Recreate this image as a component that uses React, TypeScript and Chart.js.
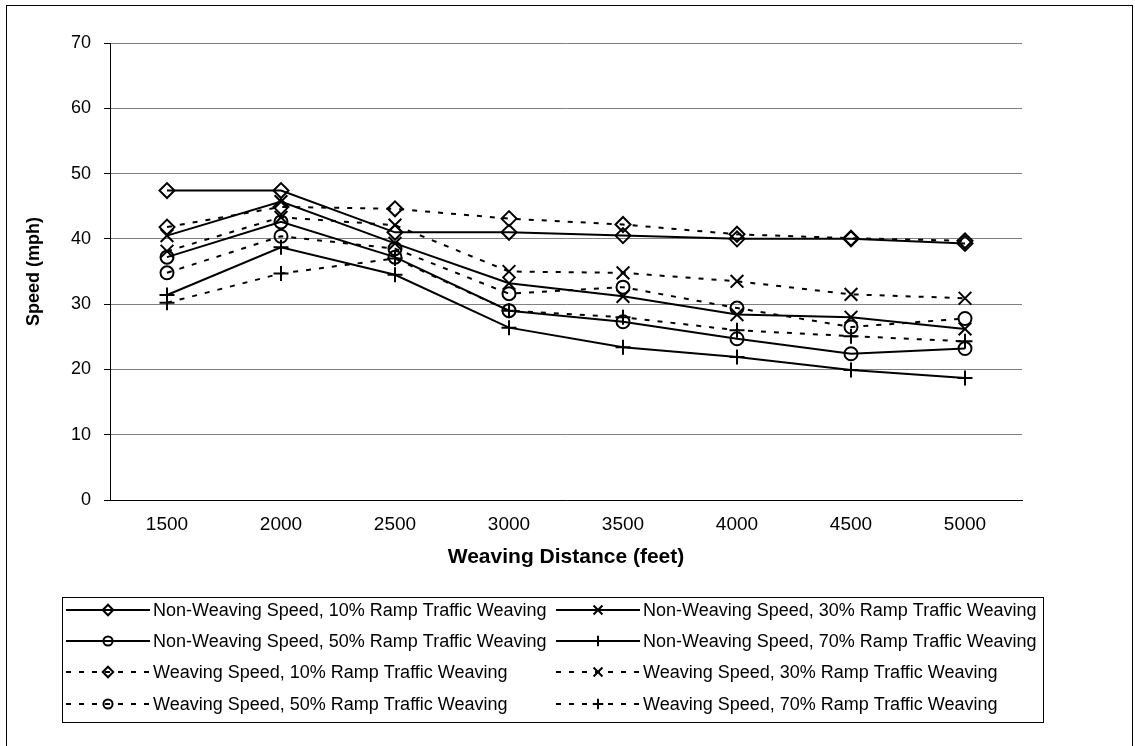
import React, { useEffect, useRef } from 'react';
import { Chart, registerables } from 'chart.js';

Chart.register(...registerables);

const categories = ['1500', '2000', '2500', '3000', '3500', '4000', '4500', '5000'];

const nonWeaving10 = [47.4, 47.4, 41.0, 41.0, 40.5, 40.0, 40.0, 39.3];
const nonWeaving30 = [40.5, 45.7, 39.3, 33.2, 31.2, 28.4, 28.0, 26.2];
const nonWeaving50 = [37.2, 42.6, 37.2, 29.0, 27.3, 24.7, 22.4, 23.2];
const nonWeaving70 = [31.4, 38.7, 34.5, 26.4, 23.4, 21.9, 19.9, 18.7];
const weaving10 = [41.8, 44.9, 44.6, 43.1, 42.2, 40.7, 40.1, 39.7];
const weaving30 = [38.1, 43.3, 42.1, 35.0, 34.8, 33.5, 31.5, 30.9];
const weaving50 = [34.8, 40.4, 38.5, 31.6, 32.6, 29.4, 26.5, 27.8];
const weaving70 = [30.2, 34.7, 37.0, 29.0, 28.0, 26.0, 25.1, 24.3];

const yTicks = [0, 10, 20, 30, 40, 50, 60, 70];

const seriesLabels = [
  'Non-Weaving Speed, 10% Ramp Traffic Weaving',
  'Non-Weaving Speed, 30% Ramp Traffic Weaving',
  'Non-Weaving Speed, 50% Ramp Traffic Weaving',
  'Non-Weaving Speed, 70% Ramp Traffic Weaving',
  'Weaving Speed, 10% Ramp Traffic Weaving',
  'Weaving Speed, 30% Ramp Traffic Weaving',
  'Weaving Speed, 50% Ramp Traffic Weaving',
  'Weaving Speed, 70% Ramp Traffic Weaving',
];

const seriesValues = [
  nonWeaving10, nonWeaving30, nonWeaving50, nonWeaving70,
  weaving10, weaving30, weaving50, weaving70,
];

const FONT = '"Liberation Sans", Arial, sans-serif';
const DASH = [5, 8];

const markerStyles = ['rectRot', 'crossRot', 'circle', 'cross'];
const markerRadius = [7.5, 9, 6.5, 7.5];

function drawMarker(ctx: CanvasRenderingContext2D, style: string, x: number, y: number, r: number) {
  ctx.beginPath();
  if (style === 'rectRot') {
    ctx.moveTo(x - r, y);
    ctx.lineTo(x, y - r);
    ctx.lineTo(x + r, y);
    ctx.lineTo(x, y + r);
    ctx.closePath();
  } else if (style === 'crossRot') {
    const d = r * Math.SQRT1_2;
    ctx.moveTo(x - d, y - d);
    ctx.lineTo(x + d, y + d);
    ctx.moveTo(x - d, y + d);
    ctx.lineTo(x + d, y - d);
  } else if (style === 'circle') {
    ctx.arc(x, y, r, 0, Math.PI * 2);
  } else {
    ctx.moveTo(x - r, y);
    ctx.lineTo(x + r, y);
    ctx.moveTo(x, y - r);
    ctx.lineTo(x, y + r);
  }
  ctx.stroke();
}

const frameAndLegend = {
  id: 'frameAndLegend',
  beforeDraw(chart: any) {
    const ctx = chart.ctx as CanvasRenderingContext2D;
    ctx.save();
    ctx.fillStyle = '#fff';
    ctx.fillRect(0, 0, chart.width, chart.height);
    ctx.strokeStyle = '#000';
    ctx.lineWidth = 1;
    ctx.strokeRect(6.5, 5.5, 1126, 800);
    ctx.restore();
  },
  afterDraw(chart: any) {
    const ctx = chart.ctx as CanvasRenderingContext2D;
    ctx.save();
    ctx.strokeStyle = '#000';
    ctx.lineWidth = 1;
    ctx.strokeRect(62.5, 597.5, 981, 125);
    const colX = [66, 556];
    const rowY = [610, 641, 672, 704];
    chart.data.datasets.forEach((ds: any, i: number) => {
      const col = i % 2;
      const row = Math.floor(i / 2);
      const x0 = colX[col];
      const y = rowY[row];
      ctx.save();
      ctx.strokeStyle = '#000';
      ctx.lineWidth = 2;
      ctx.setLineDash(ds.borderDash || []);
      ctx.beginPath();
      ctx.moveTo(x0, y);
      ctx.lineTo(x0 + 84, y);
      ctx.stroke();
      ctx.setLineDash([]);
      ctx.lineWidth = 2;
      const mi = i % 4;
      drawMarker(ctx, markerStyles[mi], x0 + 42, y, markerRadius[mi] * 0.7);
      ctx.restore();
      ctx.fillStyle = '#000';
      ctx.font = `18px ${FONT}`;
      ctx.textBaseline = 'middle';
      ctx.textAlign = 'left';
      ctx.fillText(ds.label, x0 + 87, y + 1);
    });
    ctx.restore();
  },
};

export default function App() {
  const canvasRef = useRef<HTMLCanvasElement | null>(null);

  useEffect(() => {
    if (!canvasRef.current) return;
    const datasets = seriesValues.map((vals, i) => {
      const mi = i % 4;
      const dashed = i >= 4;
      return {
        label: seriesLabels[i],
        data: vals,
        borderColor: '#000',
        backgroundColor: 'rgba(0,0,0,0)',
        borderWidth: 2,
        borderDash: dashed ? DASH : [],
        pointStyle: markerStyles[mi],
        pointRadius: markerRadius[mi],
        pointBorderColor: '#000',
        pointBackgroundColor: 'rgba(0,0,0,0)',
        pointBorderWidth: 2,
        tension: 0,
        fill: false,
      };
    });

    const chart = new Chart(canvasRef.current, {
      type: 'line',
      data: { labels: categories, datasets },
      options: {
        responsive: false,
        animation: false,
        layout: { padding: { left: 6, top: 43, right: 113, bottom: 176 } },
        plugins: {
          legend: { display: false },
          tooltip: { enabled: false },
          title: { display: false },
        },
        scales: {
          x: {
            type: 'category',
            offset: true,
            grid: { display: false, drawTicks: false },
            border: { display: true, color: '#000', width: 1 },
            ticks: { color: '#000', font: { family: FONT, size: 19 }, padding: 13, maxRotation: 0, autoSkip: false },
            title: {
              display: true,
              text: 'Weaving Distance (feet)',
              color: '#000',
              font: { family: FONT, size: 21, weight: 'bold' },
              padding: { top: 0, bottom: 0 },
            },
            afterFit: (s: any) => { s.height = 70; },
          },
          y: {
            min: 0,
            max: 70,
            afterBuildTicks: (s: any) => { s.ticks = yTicks.map((v) => ({ value: v })); },
            ticks: { color: '#000', font: { family: FONT, size: 18 }, padding: 13 },
            grid: { color: '#808080', lineWidth: 1, tickLength: 6, tickColor: '#000' },
            border: { display: true, color: '#000', width: 1 },
            title: {
              display: true,
              text: 'Speed (mph)',
              color: '#000',
              font: { family: FONT, size: 18, weight: 'bold' },
              padding: { top: 17, bottom: 0 },
            },
            afterFit: (s: any) => { s.width = 104; },
          },
        },
      } as any,
      plugins: [frameAndLegend],
    });
    return () => chart.destroy();
  }, []);

  return (
    <div style={{ position: 'absolute', left: 0, top: 0, width: 1135, height: 746, overflow: 'hidden' }}>
      <canvas ref={canvasRef} width={1135} height={746} style={{ width: 1135, height: 746, display: 'block' }} />
    </div>
  );
}
